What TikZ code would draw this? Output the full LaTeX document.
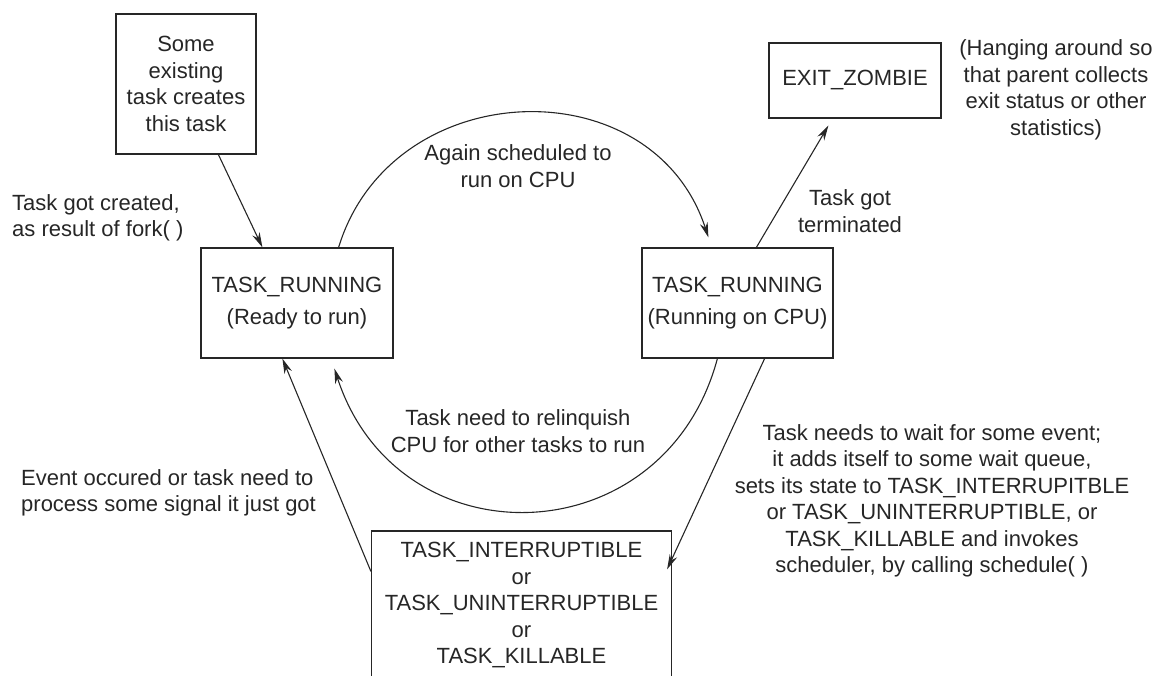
\documentclass[tikz,border=0pt]{standalone}
\usepackage{fontspec}
\setmainfont{Liberation Sans}
\usepackage{xcolor}
\usepackage{tikz}
\usetikzlibrary{arrows.meta,positioning}
\definecolor{ink}{gray}{0.15}

\begin{document}
\begin{tikzpicture}[x=1pt,y=1pt,
  font=\fontsize{22}{26.5}\selectfont, color=ink,
  state/.style={draw, line width=1.2pt, inner sep=0pt, align=center},
  note/.style={inner sep=0pt, align=center},
  >={Stealth[length=15pt,width=8pt]}]
\useasboundingbox (0,0) rectangle (1157,676);
\clip (0,0) rectangle (1157,676);

% states
\node[state, minimum width=140pt, minimum height=140pt] (creator) at (186,592) {Some\\existing\\task creates\\this task};
\node[state, minimum width=192pt, minimum height=110pt] (ready) at (297,373) {TASK\_RUNNING\\[5.5pt](Ready to run)};
\node[state, minimum width=191pt, minimum height=110pt] (running) at (737.5,373) {TASK\_RUNNING\\[5.5pt](Running on CPU)};
\node[state, minimum width=172pt, minimum height=75pt] (zombie) at (855,595.5) {EXIT\_ZOMBIE};
\node[state, minimum width=300pt, minimum height=149pt] (waiting) at (521.5,70.5) {TASK\_INTERRUPTIBLE\\or\\TASK\_UNINTERRUPTIBLE\\or\\TASK\_KILLABLE};

% labels
\node[note, align=left, anchor=west] (forknote) at (12,458) {Task got created,\\as result of fork( )};
\node[note] (againnote) at (518,510) {Again scheduled to\\run on CPU};
\node[note] (termnote) at (850,465) {Task got\\terminated};
\node[note] (zombienote) at (1056,586) {(Hanging around so\\that parent collects\\exit status or other\\statistics)};
\node[note] (yieldnote) at (518,245) {Task need to relinquish\\CPU for other tasks to run};
\node[note, align=left, anchor=west] (eventnote) at (21,183) {Event occured or task need to\\process some signal it just got};
\node[note] (waitnote) at (932,175) {Task needs to wait for some event;\\it adds itself to some wait queue,\\sets its state to TASK\_INTERRUPITBLE\\or TASK\_UNINTERRUPTIBLE, or\\TASK\_KILLABLE and invokes\\scheduler, by calling schedule( )};

% transitions
\path[->,line width=1.1pt] ([xshift=103pt]creator.south west) edge ([xshift=62pt]ready.north west);
\path[->,line width=1.1pt] ([xshift=115pt]running.north west) edge ([xshift=60pt,yshift=-7pt]zombie.south west);
\path[->,line width=1.1pt] ([xshift=-69pt]running.south east) edge ([xshift=-5pt,yshift=-39pt]waiting.north east);
\path[->,line width=1.1pt] ([yshift=-41pt]waiting.north west) edge ([xshift=82pt]ready.south west);
\path[->,line width=1.1pt] ([xshift=-55pt]ready.north east) edge[out=73,in=108,looseness=1.25] ([xshift=67pt,yshift=10pt]running.north west);
\path[->,line width=1.1pt] ([xshift=76pt]running.south west) edge[out=-105,in=-72,looseness=1.37] ([xshift=134pt,yshift=-10pt]ready.south west);
\end{tikzpicture}
\end{document}
